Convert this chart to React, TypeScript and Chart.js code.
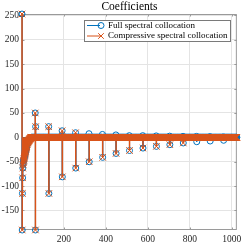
import React, { useEffect, useRef } from "react";
import { Chart, registerables } from "chart.js";

Chart.register(...registerables);

// ---------- data ----------
const N = 1024;
const titleText = "Coefficients";
const seriesNames = ["Full spectral collocation", "Compressive spectral collocation"];
const xTicks = [200, 400, 600, 800, 1000];
const yTicks = [-150, -100, -50, 0, 50, 100, 150, 200, 250];

// leading cluster (shared by both solutions)
const headIdx = [1, 2, 3, 4, 5, 6, 7, 8, 9, 10, 11, 12, 13, 14, 15, 16, 17, 18, 19, 20, 21, 22, 23, 24, 25, 26, 27, 28, 29, 30, 31, 32, 33, 34, 35, 36, 37, 38, 39, 40, 41, 42, 43, 44, 45];
const headVals = [253, -190, -115, -83, -63, -56, -52, -49, -47, -45, -43, -41, -39, -37, -35, -33, -31, -29, -27, -25, -23, -21, -19, -17, -15, -13.5, -12, -11, -10, -9, -8.2, -7.5, -7, -6.2, -5.5, -4.8, -4.2, -3.6, -3, -2.5, -2, -1.5, -1, -0.7, -0.4];

// periodic spikes
const spikeIdx = [64, 65, 66, 128, 129, 192, 193, 256, 257, 320, 321, 384, 385, 448, 449, 512, 513, 576, 577, 640, 641, 704, 705, 768, 769, 832, 833, 896, 897, 960, 961];
const fullSpikeVals = [50, -190, 22, 22, -115, 13.5, -81, 9.5, -63, 7.5, -50, 6, -41, 5, -33, 3.5, -27, 3.5, -22, 3, -18.5, 2.5, -15, 2, -11.5, 2, -9, 1.5, -7.5, 1, -6];
const compSpikeVals = [50, -190, 22, 22, -115, 13.5, -81, 9.5, -63, 0, -50, 0, -41, 0, -33, 0, -27, 0, -22, 0, -18.5, 0, -15, 0, -11.5, 0, 0, 0, 0, 0, 0];

const BLUE = "#0072BD";
const ORANGE = "#D95319";
const GRID = "#e4e4e4";
const AXIS = "#9a9a9a";
const TEXT = "#262626";
const FONT = '"Liberation Serif", "Times New Roman", serif';

function buildSeries(spVals: number[]) {
  const arr: number[] = new Array(N).fill(0);
  headIdx.forEach((ix, k) => (arr[ix - 1] = headVals[k]));
  spikeIdx.forEach((ix, k) => (arr[ix - 1] = spVals[k]));
  return arr;
}

function markers(arr: number[]) {
  return arr.map((v, i) => ({ x: i + 1, y: v }));
}

function stems(arr: number[]) {
  const out: { x: number; y: number | null }[] = [];
  arr.forEach((v, i) => {
    if (v !== 0) {
      out.push({ x: i + 1, y: 0 }, { x: i + 1, y: v }, { x: i + 1, y: null });
    }
  });
  return out;
}

const boxPlugin = {
  id: "matlabBox",
  beforeDatasetsDraw(chart: any) {
    const { ctx, chartArea: a, scales } = chart;
    ctx.save();
    ctx.strokeStyle = AXIS;
    ctx.lineWidth = 1;
    ctx.strokeRect(a.left + 0.5, a.top + 0.5, a.right - a.left - 1, a.bottom - a.top - 1);
    ctx.beginPath();
    xTicks.forEach((t) => {
      const px = Math.round(scales.x.getPixelForValue(t)) + 0.5;
      ctx.moveTo(px, a.bottom);
      ctx.lineTo(px, a.bottom - 2.5);
      ctx.moveTo(px, a.top);
      ctx.lineTo(px, a.top + 2.5);
    });
    yTicks.forEach((t) => {
      const py = Math.round(scales.y.getPixelForValue(t)) + 0.5;
      ctx.moveTo(a.left, py);
      ctx.lineTo(a.left + 2.5, py);
      ctx.moveTo(a.right, py);
      ctx.lineTo(a.right - 2.5, py);
    });
    ctx.stroke();
    ctx.restore();
  },
};

const legendPlugin = {
  id: "matlabLegend",
  afterDraw(chart: any) {
    const ctx = chart.ctx;
    ctx.save();
    const x0 = 84.5, y0 = 20.5, w = 146, h = 21;
    ctx.fillStyle = "#ffffff";
    ctx.fillRect(x0, y0, w, h);
    ctx.strokeStyle = "#7a7a7a";
    ctx.lineWidth = 1;
    ctx.strokeRect(x0, y0, w, h);
    const rows = [25.5, 36];
    ctx.strokeStyle = BLUE;
    ctx.beginPath();
    ctx.moveTo(87, rows[0]);
    ctx.lineTo(100, rows[0]);
    ctx.stroke();
    ctx.beginPath();
    ctx.arc(101, rows[0], 3, 0, Math.PI * 2);
    ctx.stroke();
    ctx.strokeStyle = ORANGE;
    ctx.beginPath();
    ctx.moveTo(87, rows[1]);
    ctx.lineTo(100, rows[1]);
    ctx.moveTo(101 - 2.8, rows[1] - 2.8);
    ctx.lineTo(101 + 2.8, rows[1] + 2.8);
    ctx.moveTo(101 - 2.8, rows[1] + 2.8);
    ctx.lineTo(101 + 2.8, rows[1] - 2.8);
    ctx.stroke();
    ctx.fillStyle = "#000000";
    ctx.font = `9px ${FONT}`;
    ctx.textBaseline = "middle";
    ctx.textAlign = "left";
    ctx.fillText(seriesNames[0], 108, rows[0]);
    ctx.fillText(seriesNames[1], 108, rows[1]);
    ctx.restore();
  },
};

export default function App() {
  const ref = useRef<HTMLCanvasElement | null>(null);

  useEffect(() => {
    if (!ref.current) return;
    const full = buildSeries(fullSpikeVals);
    const comp = buildSeries(compSpikeVals);

    // array order: index 0 is drawn last (on top)
    const chart = new Chart(ref.current, {
      type: "scatter",
      data: {
        datasets: [
          {
            label: seriesNames[1],
            data: markers(comp),
            showLine: false,
            pointStyle: "crossRot",
            pointRadius: 4.6,
            pointBorderWidth: 1,
            pointBorderColor: ORANGE,
            pointBackgroundColor: ORANGE,
            clip: false,
          } as any,
          {
            label: seriesNames[1] + " stems",
            data: stems(comp),
            showLine: true,
            borderColor: ORANGE,
            borderWidth: 1.5,
            pointRadius: 0,
            spanGaps: false,
            clip: false,
          } as any,
          {
            label: seriesNames[0],
            data: markers(full),
            showLine: false,
            pointStyle: "circle",
            pointRadius: 3,
            pointBorderWidth: 1,
            pointBorderColor: BLUE,
            pointBackgroundColor: "rgba(0,0,0,0)",
            clip: false,
          } as any,
          {
            label: seriesNames[0] + " stems",
            data: stems(full),
            showLine: true,
            borderColor: BLUE,
            borderWidth: 1,
            pointRadius: 0,
            spanGaps: false,
            clip: false,
          } as any,
        ],
      },
      options: {
        animation: false,
        responsive: false,
        events: [],
        layout: { padding: { left: 0, right: 6, top: 0, bottom: 0 } },
        plugins: {
          legend: { display: false },
          tooltip: { enabled: false },
          title: {
            display: true,
            text: titleText,
            fullSize: false,
            color: "#000000",
            font: { family: FONT, size: 11.5, weight: "normal", lineHeight: 1.2 },
            padding: { top: 0, bottom: 0.2 },
          },
        },
        scales: {
          x: {
            type: "linear",
            min: 1,
            max: N,
            afterBuildTicks: (s: any) => {
              s.ticks = xTicks.map((v) => ({ value: v }));
            },
            afterFit: (s: any) => {
              s.height = 15;
            },
            ticks: {
              color: TEXT,
              font: { family: FONT, size: 9.5 },
              padding: 3.5,
              maxRotation: 0,
              autoSkip: false,
              callback: (v: any) => String(v),
            },
            grid: { color: GRID, drawTicks: false, lineWidth: 1 },
            border: { display: false },
          },
          y: {
            type: "linear",
            min: -190,
            max: 253,
            afterBuildTicks: (s: any) => {
              s.ticks = yTicks.map((v) => ({ value: v }));
            },
            afterFit: (s: any) => {
              s.width = 22;
            },
            ticks: {
              color: TEXT,
              font: { family: FONT, size: 9.5 },
              padding: 3,
              autoSkip: false,
              callback: (v: any) => String(v),
            },
            grid: { color: GRID, drawTicks: false, lineWidth: 1 },
            border: { display: false },
          },
        },
      } as any,
      plugins: [boxPlugin, legendPlugin],
    });
    return () => chart.destroy();
  }, []);

  return (
    <div style={{ position: "fixed", left: 0, top: 0, width: 245, height: 245 }}>
      <canvas ref={ref} width={245} height={245} style={{ display: "block", width: 245, height: 245 }} />
    </div>
  );
}
